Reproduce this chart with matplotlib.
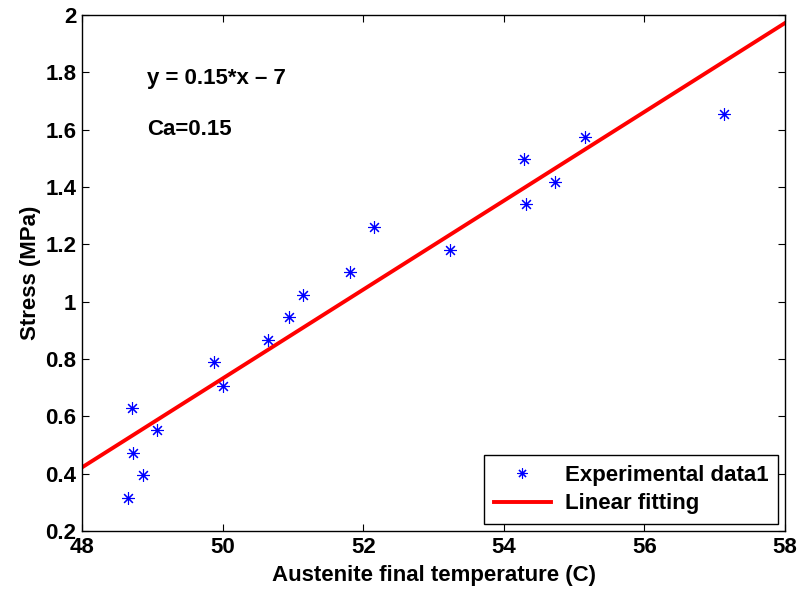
import numpy as np
import matplotlib.pyplot as plt

plt.rcParams['font.family'] = ['Liberation Sans', 'DejaVu Sans']
plt.rcParams['font.weight'] = 'bold'

# measured points
temp = [48.65, 48.72, 48.71, 48.87, 49.07, 49.88, 50.00, 50.64, 50.94,
        51.15, 51.81, 52.16, 53.24, 54.29, 54.31, 54.73, 55.16, 57.13]
stress = [0.315, 0.472, 0.629, 0.395, 0.552, 0.789, 0.706, 0.866, 0.946,
          1.023, 1.103, 1.260, 1.180, 1.497, 1.340, 1.417, 1.574, 1.654]

# fitted line
slope = 0.155
intercept = -7.018
x_fit = np.array([48, 58])
y_fit = slope * x_fit + intercept

fs = 16

fig = plt.figure(figsize=(8.01, 5.92), dpi=100)
ax = fig.add_axes([0.1024, 0.103, 0.8776, 0.8717])

ax.plot(temp, stress, linestyle='none', marker=(8, 2, 0), markersize=9,
        markeredgewidth=0.8, color='blue', label='Experimental data1')
ax.plot(x_fit, y_fit, color='red', linewidth=2.8, label='Linear fitting')

ax.set_xlim(48, 58)
ax.set_ylim(0.2, 2)
ax.set_xticks(np.arange(48, 59, 2))
ax.set_yticks(np.arange(0.2, 2.01, 0.2))
ax.set_yticklabels(['0.2', '0.4', '0.6', '0.8', '1', '1.2', '1.4', '1.6', '1.8', '2'])
ax.tick_params(direction='in', top=True, right=True, labelsize=fs, length=5, width=0.8, pad=4)
for s in ax.spines.values():
    s.set_linewidth(1.0)

ax.set_xlabel('Austenite final temperature (C)', fontsize=fs, fontweight='bold', labelpad=5)
ax.set_ylabel('Stress (MPa)', fontsize=fs, fontweight='bold', labelpad=3)

ax.text(48.92, 1.78, 'y = 0.15*x \u2013 7', fontsize=fs, fontweight='bold', va='center')
ax.text(48.92, 1.60, 'Ca=0.15', fontsize=fs, fontweight='bold', va='center')

leg = ax.legend(loc='lower right', fontsize=fs, fancybox=False, framealpha=1,
                edgecolor='black', borderaxespad=0.3, handlelength=2.6,
                markerscale=0.8, borderpad=0.45, labelspacing=0.35, handletextpad=0.6)
leg.get_frame().set_linewidth(1.0)

fig.savefig('out.png', dpi=100)
